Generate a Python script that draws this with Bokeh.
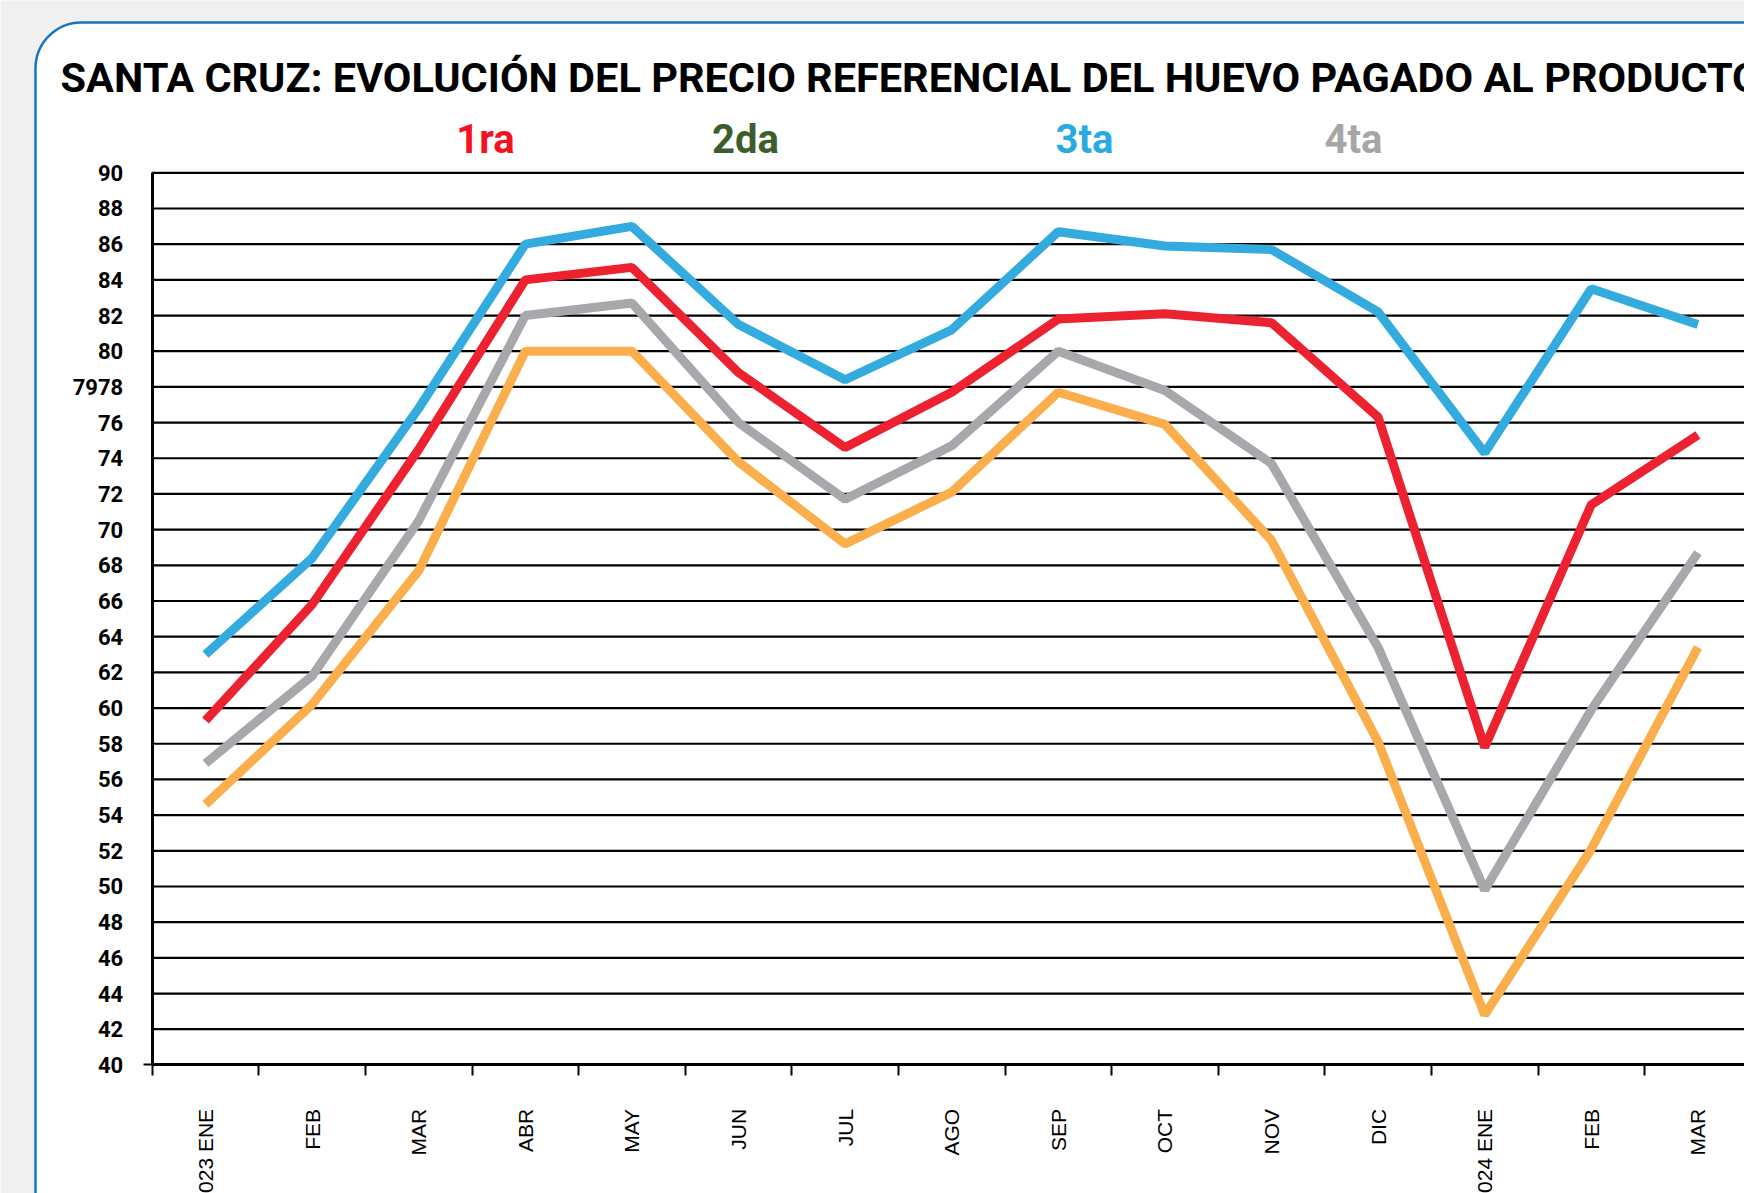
import math
from bokeh.plotting import figure
from bokeh.models import FixedTicker, Label
from bokeh.embed import file_html
from bokeh.resources import INLINE

# ---------------- data ----------------
months = ["2023 ENE", "FEB", "MAR", "ABR", "MAY", "JUN", "JUL", "AGO",
          "SEP", "OCT", "NOV", "DIC", "2024 ENE", "FEB", "MAR"]
primera = [59.3, 65.8, 74.5, 84.0, 84.7, 78.8, 74.6, 77.7, 81.8, 82.1, 81.6, 76.3, 57.8, 71.4, 75.3]   # red
segunda = [54.6, 60.2, 67.7, 80.0, 80.0, 73.8, 69.2, 72.1, 77.7, 75.9, 69.4, 58.1, 42.8, 52.1, 63.4]   # orange
tercera = [63.0, 68.4, 76.8, 86.0, 87.0, 81.5, 78.4, 81.2, 86.7, 85.9, 85.7, 82.2, 74.3, 83.5, 81.5]   # blue
cuarta = [56.9, 61.8, 70.5, 82.0, 82.7, 76.0, 71.7, 74.7, 80.0, 77.8, 73.7, 63.4, 49.8, 59.9, 68.7]    # gray
y_ticks = list(range(40, 92, 2))
y_tick_labels = {t: str(t) for t in y_ticks}
y_tick_labels[78] = "7978"
legend_names = ["1ra", "2da", "3ta", "4ta"]
title_text = "SANTA CRUZ: EVOLUCIÓN DEL PRECIO REFERENCIAL DEL HUEVO PAGADO AL PRODUCTOR"

# ---------------- layout (pixels inside the figure) ----------------
W, H = 1744, 1193
AX_X = 151.7      # y-axis position
CAT_W = 106.6     # width of one month
Y90, Y40 = 172.3, 1064.4
PPU = (Y40 - Y90) / 50.0

def dx(px):
    return (px - AX_X) / CAT_W

def dy(py):
    return 90 - (py - Y90) / PPU

x_start, x_end = dx(0), dx(W)
y_end, y_start = dy(0), dy(H)

BOLD_FONT = "Roboto"

p = figure(width=W, height=H, x_range=(x_start, x_end), y_range=(y_start, y_end),
           output_backend="svg", toolbar_location=None, min_border=0, title=None)
p.outline_line_color = None
p.background_fill_color = "#F0F0F0"
p.border_fill_color = "#F0F0F0"

# rounded card
card = p.quad(left=dx(35), right=x_end + 2, top=dy(22), bottom=y_start - 5,
              fill_color="white", line_color="#1B75BC", line_width=2.5,
              border_radius=46)
card.level = "image"

xs = [i + 0.5 for i in range(len(months))]

# horizontal grid lines, starting at the y axis
grid = p.segment(x0=0, x1=x_end + 1, y0=y_ticks, y1=y_ticks,
                 line_color="black", line_width=2.2)
grid.level = "underlay"
p.xgrid.visible = False
p.ygrid.visible = False

# x axis
xa = p.xaxis[0]
xa.fixed_location = 40
xa.bounds = (0, 15)
xa.ticker = FixedTicker(ticks=xs, minor_ticks=list(range(len(months) + 1)))
xa.major_label_overrides = {x: m for x, m in zip(xs, months)}
xa.major_label_orientation = math.pi / 2
xa.major_label_standoff = 33
xa.major_label_text_font = "Liberation Sans"
xa.major_label_text_font_size = "21px"
xa.major_label_text_color = "black"
xa.major_tick_in = 0
xa.major_tick_out = 0
xa.minor_tick_in = 0
xa.minor_tick_out = 11
xa.minor_tick_line_color = "black"
xa.minor_tick_line_width = 2
xa.axis_line_color = "black"
xa.axis_line_width = 3

# y axis
ya = p.yaxis[0]
ya.fixed_location = 0
ya.bounds = (40, 90)
ya.ticker = FixedTicker(ticks=y_ticks, minor_ticks=[40])
ya.major_label_overrides = y_tick_labels
ya.major_label_standoff = 20
ya.major_label_text_font = BOLD_FONT
ya.major_label_text_font_style = "bold"
ya.major_label_text_font_size = "22px"
ya.major_label_text_color = "black"
ya.major_tick_in = 0
ya.major_tick_out = 0
ya.minor_tick_in = 0
ya.minor_tick_out = 9
ya.minor_tick_line_color = "black"
ya.minor_tick_line_width = 2
ya.axis_line_color = "black"
ya.axis_line_width = 3

# series
series = [(segunda, "#FAAE4C"), (cuarta, "#A7A8AB"), (primera, "#EC2230"), (tercera, "#33ABDF")]
for vals, col in series:
    p.line(xs, vals, line_color=col, line_width=9)

# title
p.add_layout(Label(x=dx(60), y=dy(76.5), text=title_text, text_font=BOLD_FONT,
                   text_font_style="bold", text_font_size="41.5px", text_color="black",
                   text_align="left", text_baseline="alphabetic"))

# legend texts
legend_colors = ["#F5121E", "#3B5E2B", "#2BAAE2", "#A6A6A6"]
legend_px = [485, 745, 1084, 1353]
for name, col, px in zip(legend_names, legend_colors, legend_px):
    p.add_layout(Label(x=dx(px), y=dy(139), text=name, text_font=BOLD_FONT,
                       text_font_style="bold", text_font_size="40px", text_color=col,
                       text_align="center", text_baseline="alphabetic"))

open("out.html", "w").write(file_html(p, INLINE))
